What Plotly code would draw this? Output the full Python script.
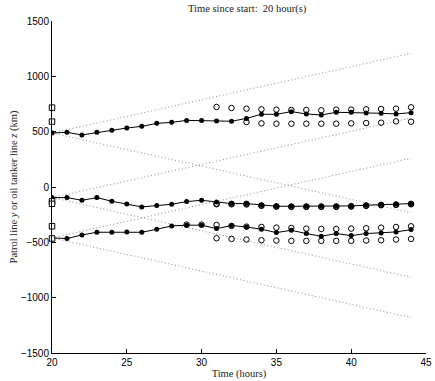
import plotly.graph_objects as go

# ---- data ----
hours = list(range(20, 45))
upper_track = [488, 494, 470, 494, 512, 533, 548, 575, 584, 602, 600, 597, 594,
               620, 657, 657, 681, 660, 651, 675, 675, 669, 666, 660, 672]
middle_track = [-96, -96, -120, -96, -129, -153, -180, -168, -156, -132, -120, -135, -150,
                -150, -165, -174, -174, -174, -174, -174, -171, -165, -159, -156, -150]
bottom_track = [-460, -466, -433, -409, -409, -406, -409, -382, -352, -345, -345, -376, -348,
                -361, -382, -412, -391, -421, -445, -421, -439, -421, -415, -406, -385]

obs_hours_a = list(range(31, 45))
upper_obs_hi = [723, 714, 708, 702, 699, 696, 696, 693, 699, 699, 702, 705, 708, 720]
obs_hours_b = list(range(33, 45))
upper_obs_lo = [587, 575, 572, 572, 572, 572, 572, 575, 578, 581, 593, 590]

middle_obs_hi = [-150, -152, -152, -167, -174, -176, -176, -176, -176, -173, -167, -161, -158, -152]
middle_obs_lo = [-156, -156, -158, -170, -178, -180, -180, -180, -180, -177, -171, -165, -162, -156]

obs_hours_c = list(range(29, 45))
bottom_obs_hi = [-340, -340, -343, -352, -358, -361, -367, -370, -376, -379, -379, -376, -373, -367, -361, -355]
bottom_obs_lo = [-463, -469, -475, -481, -484, -487, -487, -487, -487, -487, -484, -481, -475, -469]

start_hours = [20, 20, 20, 20, 20, 20]
start_values = [717, 591, -130, -152, -355, -465]

cone_t0, cone_t1 = 20, 44
cone_start = [488, -96, -460]
cone_end_hi = [1208, 624, 260]
cone_end_lo = [-232, -816, -1180]

fig = go.Figure()

# dotted cones
for s, hi, lo in zip(cone_start, cone_end_hi, cone_end_lo):
    for e in (hi, lo):
        fig.add_trace(go.Scatter(x=[cone_t0, cone_t1], y=[s, e], mode="lines",
                                 line=dict(color="#8a8a8a", width=1, dash="1px,2.5px"),
                                 hoverinfo="skip", showlegend=False))

# observation circles
circ = dict(symbol="circle-open", size=5.5, color="black", line=dict(width=1, color="black"))
for xs, ys in [(obs_hours_a, upper_obs_hi), (obs_hours_b, upper_obs_lo),
               (obs_hours_a, middle_obs_hi), (obs_hours_a, middle_obs_lo),
               (obs_hours_c, bottom_obs_hi), (obs_hours_a, bottom_obs_lo)]:
    fig.add_trace(go.Scatter(x=xs, y=ys, mode="markers", marker=circ, showlegend=False))

# tracks
for ys in (upper_track, middle_track, bottom_track):
    fig.add_trace(go.Scatter(x=hours, y=ys, mode="lines+markers",
                             line=dict(color="black", width=1),
                             marker=dict(symbol="circle", size=5, color="black"),
                             showlegend=False))

# start squares
fig.add_trace(go.Scatter(x=start_hours, y=start_values, mode="markers",
                         marker=dict(symbol="square", size=5.5, color="white",
                                     line=dict(width=1, color="black")),
                         cliponaxis=False, showlegend=False))

serif = "Liberation Serif"
sans = "Liberation Sans"

fig.update_layout(
    width=435, height=381,
    margin=dict(l=52, r=3, t=21, b=28),
    plot_bgcolor="white", paper_bgcolor="white",
    showlegend=False,
    annotations=[
        dict(text="Time since start:  20 hour(s)", xref="paper", yref="paper",
             x=(251 - 52) / 380, y=1, yshift=12, showarrow=False,
             xanchor="center", yanchor="middle",
             font=dict(family=serif, size=10.5, color="#222")),
    ],
)
fig.update_xaxes(range=[20, 45], tickvals=[20, 25, 30, 35, 40, 45],
                 showline=True, linecolor="black", linewidth=1, mirror=False,
                 ticks="inside", ticklen=4, tickcolor="black", showgrid=False,
                 zeroline=False, tickfont=dict(family=sans, size=10, color="black"),
                 ticklabeloverflow="allow",
                 title=dict(text="Time (hours)", font=dict(family=serif, size=10.5, color="#222"),
                            standoff=2))
fig.update_yaxes(range=[-1500, 1500], tickvals=[-1500, -1000, -500, 0, 500, 1000, 1500],
                 ticktext=["\u22121500", "\u22121000", "\u2212500", "0", "500", "1000", "1500"],
                 showline=True, linecolor="black", linewidth=1, mirror=False,
                 ticks="inside", ticklen=4, tickcolor="black", showgrid=False,
                 zeroline=False, tickfont=dict(family=sans, size=10, color="black"),
                 title=dict(text="Patrol line <i>y</i> or oil tanker line <i>z</i> (km)",
                            font=dict(family=serif, size=10.5, color="#222"), standoff=1))

fig.write_html("out.html")
